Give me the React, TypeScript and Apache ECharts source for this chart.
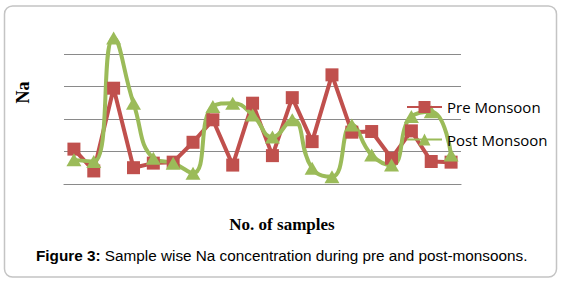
import React, { useEffect, useRef } from "react";
import * as echarts from "echarts";

const categories = ["1","2","3","4","5","6","7","8","9","10","11","12","13","14","15","16","17","18","19","20"];
const preMonsoon = [1.08, 0.41, 2.95, 0.51, 0.65, 0.68, 1.29, 1.98, 0.59, 2.49, 0.88, 2.66, 1.31, 3.36, 1.6, 1.62, 0.8, 1.64, 0.7, 0.68];
const postMonsoon = [0.75, 0.7, 4.49, 2.49, 0.8, 0.65, 0.34, 2.39, 2.49, 2.13, 1.45, 1.98, 0.49, 0.23, 1.82, 0.9, 0.59, 2.08, 2.23, 0.9];
const yTicks = [0, 1, 2, 3, 4];

export default function App() {
  const ref = useRef<HTMLDivElement>(null);
  useEffect(() => {
    document.body.style.margin = "0";
    if (!ref.current) return;
    const chart = echarts.init(ref.current, null, { renderer: "svg" });
    chart.setOption({
      animation: false,
      backgroundColor: "#ffffff",
      grid: { left: 64, right: 102, top: 54, bottom: 98.7, containLabel: false },
      xAxis: {
        type: "category",
        data: categories,
        boundaryGap: true,
        axisLabel: { show: false },
        axisTick: { show: false },
        axisLine: { show: true, lineStyle: { color: "#8a8a8a", width: 1.2 } },
        splitLine: { show: false },
      },
      yAxis: {
        type: "value",
        min: yTicks[0],
        max: yTicks[yTicks.length - 1],
        interval: 1,
        axisLabel: { show: false },
        axisTick: { show: false },
        axisLine: { show: false },
        splitLine: { show: true, lineStyle: { color: "#8a8a8a", width: 1.2 } },
      },
      legend: {
        orient: "vertical",
        left: 406,
        top: 98,
        padding: 0,
        itemWidth: 35,
        itemHeight: 15,
        itemGap: 14.5,
        textStyle: { fontFamily: "Open Sans", fontSize: 15, color: "#000", lineHeight: 18 },
        data: ["Pre Monsoon", "Post Monsoon"],
      },
      series: [
        {
          name: "Pre Monsoon",
          type: "line",
          data: preMonsoon,
          clip: false,
          symbol: "rect",
          symbolSize: 13,
          itemStyle: { color: "#C0504D" },
          lineStyle: { color: "#C0504D", width: 4 },
        },
        {
          name: "Post Monsoon",
          type: "line",
          data: postMonsoon,
          clip: false,
          smooth: 0.5,
          symbol: "triangle",
          symbolSize: [15, 13],
          itemStyle: { color: "#9BBB59" },
          lineStyle: { color: "#9BBB59", width: 4 },
        },
      ],
      graphic: [
        {
          type: "rect",
          shape: { x: 4.5, y: 6, width: 552, height: 271, r: 8 },
          style: { fill: "none", stroke: "#c4c4c4", lineWidth: 1.5 },
          z: -10,
          silent: true,
        },
        {
          type: "text",
          x: 23.3,
          y: 92.5,
          rotation: Math.PI / 2,
          style: {
            text: "Na",
            fontFamily: "Liberation Serif",
            fontWeight: "bold",
            fontSize: 18,
            fill: "#000",
            align: "center",
            verticalAlign: "middle",
          },
        },
        {
          type: "text",
          x: 282,
          y: 224,
          style: {
            text: "No. of samples",
            fontFamily: "Liberation Serif",
            fontWeight: "bold",
            fontSize: 17,
            fill: "#000",
            align: "center",
            verticalAlign: "middle",
          },
        },
        {
          type: "text",
          x: 36,
          y: 255,
          style: {
            text: "{b|Figure 3:} Sample wise Na concentration during pre and post-monsoons.",
            fontFamily: "Liberation Sans",
            fontSize: 15.3,
            fill: "#000",
            align: "left",
            verticalAlign: "middle",
            rich: {
              b: { fontFamily: "Liberation Sans", fontWeight: "bold", fontSize: 15.3, fill: "#000" },
            },
          },
        },
      ],
    });
    return () => chart.dispose();
  }, []);
  return (
    <div
      ref={ref}
      style={{ position: "absolute", left: 0, top: 0, width: 563, height: 283 }}
    />
  );
}
